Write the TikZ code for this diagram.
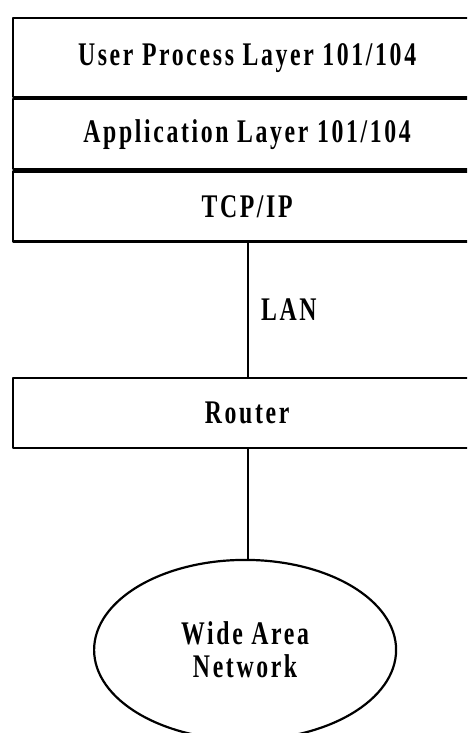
\documentclass[tikz,border=0pt]{standalone}
\usepackage{fontspec}
\newfontfamily\figfont[FakeStretch=0.72,LetterSpace=8]{Liberation Serif}
\usetikzlibrary{positioning,shapes.geometric}
\tikzset{
  layer/.style={draw, line width=2.2pt, minimum width=468pt, minimum height=70pt, inner sep=0pt},
  cloud/.style={ellipse, draw, line width=2.2pt, minimum width=302pt, minimum height=180pt, inner sep=0pt, align=center},
  link/.style={line width=2.2pt},
  every node/.style={font=\figfont\bfseries\fontsize{33}{33}\selectfont},
  every picture/.style={line cap=round, line join=round}
}
\begin{document}
\begin{tikzpicture}[x=1pt,y=-1pt]
    \useasboundingbox (0,0) rectangle (467,733);
    \clip (0,0) rectangle (467,733);

    \node[layer, minimum height=79pt, anchor=north west] (user) at (12,17) {User Process Layer 101/104};
    \node[layer, below=0pt of user] (app) {Application Layer 101/104};
    \node[layer, below=0pt of app] (tcp) {TCP/IP};

    \node[layer, below=134pt of tcp] (router) {Router};
    \node[cloud, below=110pt of router, xshift=-2pt] (wan) {Wide Area\\Network};

    \draw[link] (tcp.south -| 248,0) -- node[right, inner sep=12pt] {LAN} (router.north -| 248,0);
    \draw[link] (router.south -| 248,0) -- (wan.north -| 248,0);
  \end{tikzpicture}
\end{document}
